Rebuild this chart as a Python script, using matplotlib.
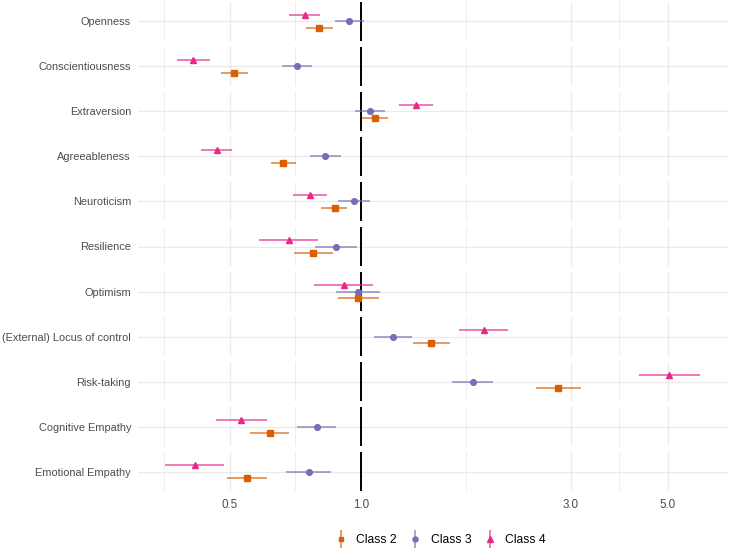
import numpy as np
import matplotlib.pyplot as plt
from matplotlib.lines import Line2D
from matplotlib.legend_handler import HandlerTuple
from matplotlib.ticker import FixedLocator, NullFormatter

plt.rcParams['font.family'] = ['Liberation Sans', 'DejaVu Sans']

traits = ['Openness', 'Conscientiousness', 'Extraversion', 'Agreeableness',
          'Neuroticism', 'Resilience', 'Optimism', '(External) Locus of control',
          'Risk-taking', 'Cognitive Empathy', 'Emotional Empathy']

# odds ratios and 95% CIs per class
or_c2 = [0.802, 0.513, 1.075, 0.662, 0.868, 0.777, 0.982, 1.443, 2.814, 0.617, 0.547]
lo_c2 = [0.748, 0.477, 1.002, 0.621, 0.810, 0.703, 0.884, 1.313, 2.506, 0.557, 0.493]
hi_c2 = [0.860, 0.551, 1.150, 0.708, 0.929, 0.862, 1.095, 1.592, 3.171, 0.683, 0.608]

or_c3 = [0.936, 0.714, 1.047, 0.825, 0.964, 0.876, 0.982, 1.178, 1.794, 0.790, 0.758]
lo_c3 = [0.871, 0.660, 0.965, 0.762, 0.886, 0.784, 0.875, 1.068, 1.612, 0.714, 0.672]
hi_c3 = [1.011, 0.770, 1.132, 0.896, 1.047, 0.979, 1.100, 1.304, 2.000, 0.873, 0.852]

or_c4 = [0.742, 0.413, 1.332, 0.467, 0.763, 0.683, 0.911, 1.905, 5.044, 0.532, 0.417]
lo_c4 = [0.685, 0.380, 1.220, 0.430, 0.697, 0.583, 0.780, 1.672, 4.301, 0.466, 0.356]
hi_c4 = [0.806, 0.451, 1.458, 0.506, 0.835, 0.797, 1.061, 2.164, 5.927, 0.608, 0.486]

classes = ['Class 2', 'Class 3', 'Class 4']
colors = ['#D95F02', '#7570B3', '#E7298A']
markers = ['s', 'o', '^']
msizes = [3.9, 4.1, 4.9]
offsets = [-0.2, 0.0, 0.2]
series = [(or_c2, lo_c2, hi_c2), (or_c3, lo_c3, hi_c3), (or_c4, lo_c4, hi_c4)]

fig, axes = plt.subplots(len(traits), 1, figsize=(7.29, 5.5), dpi=100, sharex=True)
fig.subplots_adjust(left=138/729, right=1.0, top=1-2/550, bottom=1-491/550, hspace=0.154)

for i, ax in enumerate(axes):
    for s, (est, lo, hi) in enumerate(series):
        ax.hlines(offsets[s], lo[i], hi[i], color=colors[s], lw=1.1, alpha=0.8, zorder=3)
        ax.plot(est[i], offsets[s], marker=markers[s], color=colors[s],
                ms=msizes[s], ls='none', zorder=4)
    ax.axvline(1.0, color='black', lw=1.4, zorder=2)
    ax.set_xscale('log')
    ax.set_xlim(0.309, 6.90)
    ax.set_ylim(-0.6, 0.6)
    ax.xaxis.set_major_locator(FixedLocator([0.5, 1.0, 3.0, 5.0]))
    ax.xaxis.set_minor_locator(FixedLocator([0.354, 0.707, 1.732, 3.873]))
    ax.xaxis.set_minor_formatter(NullFormatter())
    ax.set_xticklabels(['0.5', '1.0', '3.0', '5.0'])
    ax.set_yticks([0])
    ax.set_yticklabels([traits[i]])
    ax.grid(True, which='major', color='#EBEBEB', lw=1.0, zorder=0)
    ax.grid(True, which='minor', axis='x', color='#EBEBEB', lw=0.6, zorder=0)
    ax.set_axisbelow(True)
    for sp in ax.spines.values():
        sp.set_visible(False)
    ax.tick_params(which='both', length=0, labelsize=7.9, labelcolor='#4D4D4D', pad=5)

axes[-1].tick_params(axis='x', pad=6, labelsize=8.4)

handles = []
for s in range(3):
    bar = Line2D([], [], marker='|', ms=13, mew=1.1, color=colors[s], ls='none', alpha=0.8)
    pt = Line2D([], [], marker=markers[s], ms=msizes[s] - 0.5, color=colors[s], ls='none')
    handles.append((bar, pt))
fig.legend(handles, classes, handler_map={tuple: HandlerTuple(ndivide=1)},
           loc='center', bbox_to_anchor=(441/729, 1-540/550), ncol=3, frameon=False,
           fontsize=8.7, handlelength=0.8, columnspacing=1.1, handletextpad=0.9)

fig.savefig('out.png', dpi=100)
